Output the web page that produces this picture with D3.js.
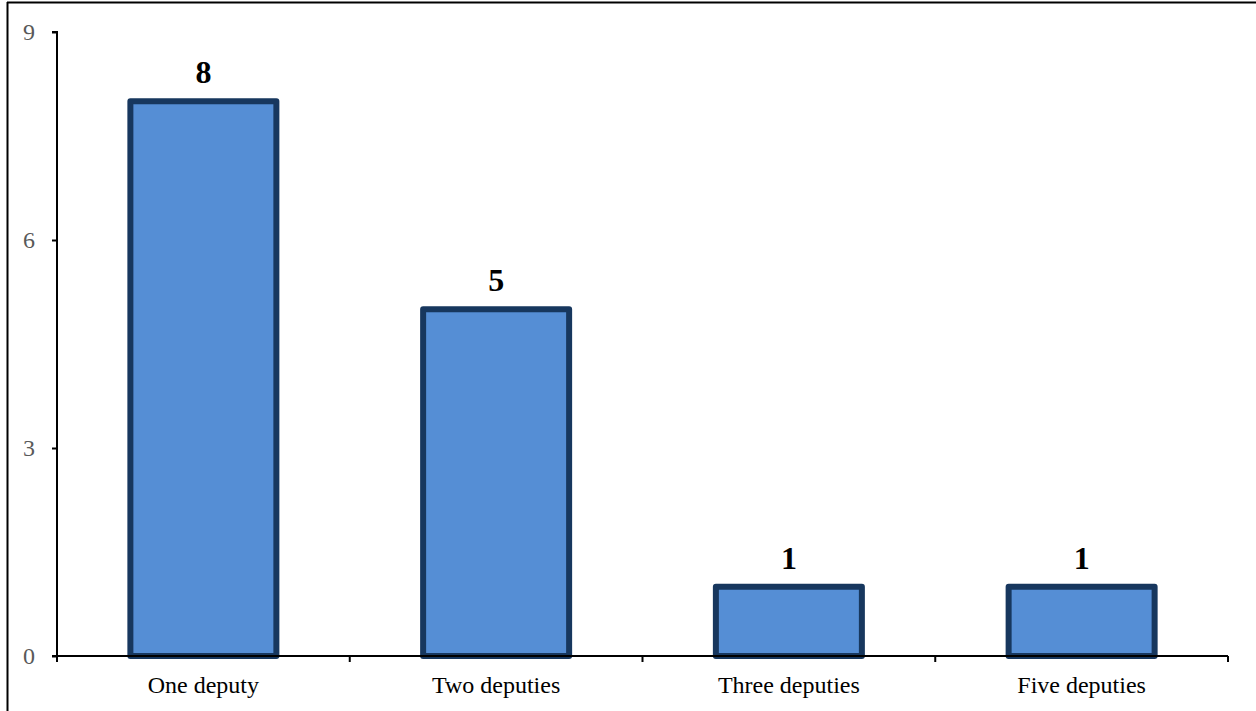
<!DOCTYPE html>
<html><head><meta charset="utf-8">
<script src="https://cdn.jsdelivr.net/npm/d3@7"></script>
<style>body{margin:0;background:#fff;} svg{display:block;}</style>
</head><body>
<svg id="c" width="1256" height="711"></svg>
<script>
const categories = ["One deputy","Two deputies","Three deputies","Five deputies"];
const values = [8,5,1,1];
const yTicks = [0,3,6,9];

const svg = d3.select("#c");
const W = 1256, H = 711;
const m = {left:57, right:28, top:32, bottom:55};
const FONT = "Liberation Serif, Times New Roman, serif";

// frame
svg.append("line").attr("x1",7).attr("x2",1256).attr("y1",2.5).attr("y2",2.5).attr("stroke","#000").attr("stroke-width",2);
svg.append("line").attr("x1",7.5).attr("x2",7.5).attr("y1",2).attr("y2",711).attr("stroke","#000").attr("stroke-width",2);

const xb = d3.scaleBand().domain(categories).range([m.left, W-m.right]);
const y = d3.scaleLinear().domain([0,9]).range([H-m.bottom, m.top]);

// bars
svg.selectAll("rect.bar").data(values).enter().append("rect")
  .attr("x",(d,i)=>xb(categories[i]) + xb.bandwidth()/2 - 73)
  .attr("width",146)
  .attr("y",d=>y(d)).attr("height",d=>y(0)-y(d))
  .attr("fill","#558ED5").attr("stroke","#17375E").attr("stroke-width",6).attr("stroke-linejoin","round");

// value labels
svg.selectAll("text.val").data(values).enter().append("text")
  .attr("x",(d,i)=>xb(categories[i]) + xb.bandwidth()/2)
  .attr("y",d=>y(d)-18)
  .attr("text-anchor","middle").attr("font-family",FONT)
  .attr("font-weight","bold").attr("font-size",32).attr("fill","#000")
  .text(d=>d);

// y axis
const ya = svg.append("g").attr("transform",`translate(${m.left},0)`)
  .call(d3.axisLeft(y).tickValues(yTicks).tickSize(5).tickPadding(17));
ya.select(".domain").attr("stroke","#000").attr("stroke-width",2).attr("d",`M-5,${y(9)}H0V${y(0)}`);
ya.selectAll(".tick line").attr("stroke","#000").attr("stroke-width",2);
ya.selectAll(".tick text").attr("font-family",FONT).attr("font-size",24).attr("fill","#595959");

// x axis
const xa = svg.append("g").attr("transform",`translate(0,${y(0)})`)
  .call(d3.axisBottom(xb).tickSize(0).tickPadding(20));
xa.select(".domain").attr("stroke","#000").attr("stroke-width",2).attr("d",`M${m.left-5},0H${W-m.right}`);
xa.selectAll(".tick text").attr("font-family",FONT).attr("font-size",24).attr("fill","#000");
// boundary ticks
const bounds = categories.map(c=>xb(c)).concat([W-m.right]);
svg.selectAll("line.bt").data(bounds).enter().append("line")
  .attr("x1",d=>d).attr("x2",d=>d).attr("y1",y(0)).attr("y2",y(0)+6)
  .attr("stroke","#000").attr("stroke-width",2);
</script>
</body></html>
